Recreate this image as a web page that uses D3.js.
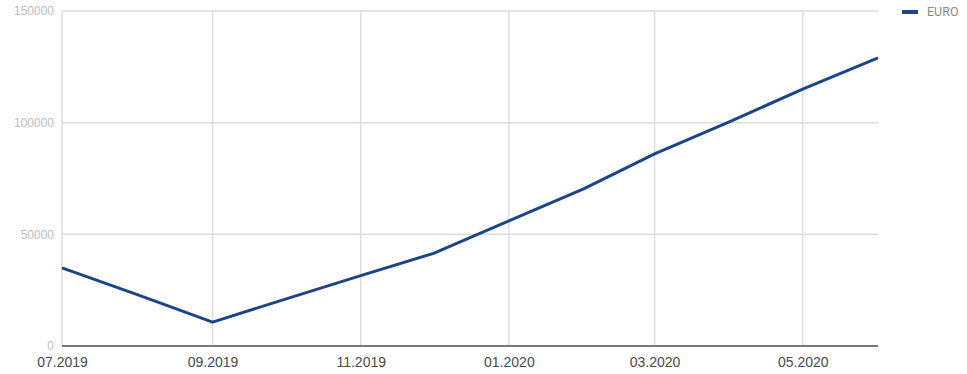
<!DOCTYPE html>
<html>
<head>
<meta charset="utf-8">
<script src="https://cdn.jsdelivr.net/npm/d3@7"></script>
<style>
  body { margin: 0; background: #fff; }
  svg { display: block; font-family: Roboto, "Open Sans", sans-serif; }
  .grid line { stroke: #dcdcdc; stroke-width: 1.5; }
  .y-axis text { fill: #bdbdbd; font-size: 12px; }
  .x-axis text { fill: #4a4a4a; font-size: 14px; }
</style>
</head>
<body>
<div id="chart"></div>
<script>
  "use strict";
  // monthly values, 07.2019 .. 06.2020
  const months = ["2019-07", "2019-08", "2019-09", "2019-10", "2019-11", "2019-12",
    "2020-01", "2020-02", "2020-03", "2020-04", "2020-05", "2020-06"];
  const euro = [35000, 23000, 10700, 21000, 31500, 41500,
    56000, 70500, 86000, 100500, 115000, 129000];
  const yTicks = [0, 50000, 100000, 150000];
  const xTickMonths = ["2019-07", "2019-09", "2019-11", "2020-01", "2020-03", "2020-05"];
  const seriesName = "EURO";

  const width = 967, height = 374;
  const margin = { left: 62, right: 89, top: 11, bottom: 28 };
  const parse = d3.timeParse("%Y-%m");
  const fmt = d3.timeFormat("%m.%Y");

  const data = months.map((m, i) => ({ date: parse(m), value: euro[i] }));

  const x = d3.scaleTime()
    .domain(d3.extent(data, (d) => d.date))
    .range([margin.left, width - margin.right]);
  const y = d3.scaleLinear()
    .domain([0, 150000])
    .range([height - margin.bottom, margin.top]);

  const svg = d3.select("#chart").append("svg")
    .attr("width", width)
    .attr("height", height);

  const xTickDates = xTickMonths.map(parse);

  // Grid
  const grid = svg.append("g").classed("grid", true);
  grid.selectAll("line.h")
    .data(yTicks.filter((t) => t > 0))
    .enter().append("line")
    .attr("x1", margin.left).attr("x2", width - margin.right)
    .attr("y1", (d) => y(d)).attr("y2", (d) => y(d));
  grid.selectAll("line.v")
    .data(xTickDates)
    .enter().append("line")
    .attr("x1", (d) => x(d)).attr("x2", (d) => x(d))
    .attr("y1", margin.top).attr("y2", y(0));

  // Y axis labels
  svg.append("g")
    .classed("y-axis", true)
    .attr("transform", `translate(${margin.left}, 0)`)
    .call(d3.axisLeft(y).tickValues(yTicks).tickSize(0).tickPadding(8).tickFormat(d3.format("d")))
    .call((g) => g.select(".domain").remove());

  // X axis labels
  svg.append("g")
    .classed("x-axis", true)
    .attr("transform", `translate(0, ${y(0)})`)
    .call(d3.axisBottom(x).tickValues(xTickDates).tickSize(0).tickPadding(11).tickFormat(fmt))
    .call((g) => g.select(".domain").remove());

  // Baseline
  svg.append("line")
    .attr("x1", margin.left).attr("x2", width - margin.right)
    .attr("y1", y(0)).attr("y2", y(0))
    .attr("stroke", "#777").attr("stroke-width", 2);

  // Series line
  const line = d3.line().x((d) => x(d.date)).y((d) => y(d.value));
  svg.append("path")
    .datum(data)
    .attr("fill", "none")
    .attr("stroke", "#1c4587")
    .attr("stroke-width", 3)
    .attr("stroke-linejoin", "round")
    .attr("d", line);

  // Legend
  const legend = svg.append("g").attr("transform", `translate(${width - margin.right + 24}, 12)`);
  legend.append("line")
    .attr("x1", 0).attr("x2", 16)
    .attr("stroke", "#1c4587").attr("stroke-width", 4);
  legend.append("text")
    .attr("x", 25).attr("dy", "0.35em")
    .attr("fill", "#8a8a8a").attr("font-size", 12.5)
    .text(seriesName);
</script>
</body>
</html>
